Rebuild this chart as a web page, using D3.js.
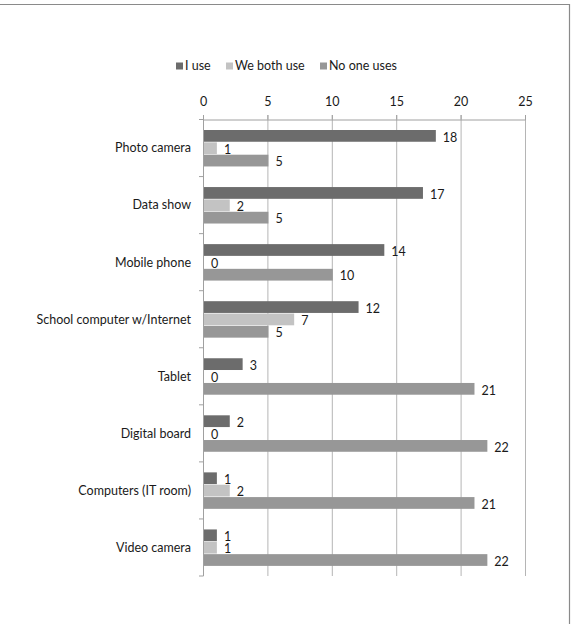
<!DOCTYPE html>
<html>
<head>
<meta charset="utf-8">
<script src="https://cdn.jsdelivr.net/npm/d3@7"></script>
<style>
  body { margin: 0; background: #fff; }
  text { font-family: Lato, "Open Sans", sans-serif; fill: #1a1a1a; }
</style>
</head>
<body>
<div id="chart"></div>
<script>
"use strict";

// Data
// ----

var categories = ["Photo camera", "Data show", "Mobile phone", "School computer w/Internet",
                  "Tablet", "Digital board", "Computers (IT room)", "Video camera"];
var iUse     = [18, 17, 14, 12, 3, 2, 1, 1];
var bothUse  = [1, 2, 0, 7, 0, 0, 2, 1];
var noOneUse = [5, 5, 10, 5, 21, 22, 21, 22];
var seriesNames = ["I use", "We both use", "No one uses"];
var ticks = [0, 5, 10, 15, 20, 25];


// Box sizing
// ----------

var W = 573, H = 624,
    pLeft = 203, pRight = 525, pTop = 119.5, pBottom = 576,
    colors = ["#6c6c6c", "#c3c3c3", "#979797"],
    series = [iUse, bothUse, noOneUse];

var svg = d3.select("#chart").append("svg")
    .attr("width", W)
    .attr("height", H);

// frame (only top and right edges visible)
svg.append("path")
    .attr("d", "M0,4.5H569.5V" + H)
    .attr("fill", "none")
    .attr("stroke", "#8a8a8a")
    .attr("stroke-width", 1.2);

var x = d3.scaleLinear().domain([0, 25]).range([pLeft, pRight]);
var y = d3.scaleBand().domain(categories).range([pTop, pBottom]);
var sub = d3.scaleBand().domain([0, 1, 2]).range([10.5, y.bandwidth() - 9.5]);


// Gridlines and axes
// ------------------

svg.append("g").selectAll("line")
    .data(ticks.slice(1))
    .join("line")
    .attr("x1", function(d){ return x(d) + 0.5 })
    .attr("x2", function(d){ return x(d) + 0.5 })
    .attr("y1", pTop - 4.5)
    .attr("y2", pBottom)
    .attr("stroke", "#b5b5b5");

var xAxis = d3.axisTop(x).tickValues(ticks).tickSize(4.5).tickPadding(9);
svg.append("g")
    .attr("transform", "translate(0," + pTop + ")")
    .call(xAxis)
    .call(function(g) {
      g.selectAll("path.domain").attr("stroke", "#a0a0a0");
      g.selectAll(".tick line").attr("stroke", "#a0a0a0");
      g.selectAll("text").attr("font-size", 12.5).attr("font-family", null)
          .attr("fill", "#1a1a1a");
    });

// left axis with ticks between categories
svg.append("line")
    .attr("x1", pLeft + 0.5).attr("x2", pLeft + 0.5)
    .attr("y1", pTop).attr("y2", pBottom)
    .attr("stroke", "#a0a0a0");

svg.append("g").selectAll("line")
    .data(d3.range(categories.length + 1))
    .join("line")
    .attr("x1", pLeft - 4).attr("x2", pLeft + 0.5)
    .attr("y1", function(i){ return pTop + i * y.bandwidth() })
    .attr("y2", function(i){ return pTop + i * y.bandwidth() })
    .attr("stroke", "#a0a0a0");

svg.append("g").selectAll("text")
    .data(categories)
    .join("text")
    .attr("x", pLeft - 12)
    .attr("y", function(d){ return y(d) + y.bandwidth() / 2 })
    .attr("dy", "0.35em")
    .attr("text-anchor", "end")
    .attr("font-size", 12.5)
    .text(function(d){ return d });


// Bars and labels
// ---------------

series.forEach(function(vals, s) {
  var g = svg.append("g");

  g.selectAll("rect")
      .data(vals)
      .join("rect")
      .attr("x", x(0) + 1)
      .attr("y", function(d, i){ return y(categories[i]) + sub(s) })
      .attr("width", function(d){ return Math.max(0, x(d) - x(0)) })
      .attr("height", sub.bandwidth() - 0.6)
      .attr("fill", colors[s]);

  g.selectAll("text")
      .data(vals)
      .join("text")
      .attr("x", function(d){ return x(d) + 8 })
      .attr("y", function(d, i){ return y(categories[i]) + sub(s) + sub.bandwidth() / 2 + 1 })
      .attr("dy", "0.35em")
      .attr("font-size", 12.5)
      .text(function(d){ return d });
});


// Legend
// ------

var legendX = [176, 226, 320];
var legend = svg.append("g").selectAll("g")
    .data(seriesNames)
    .join("g")
    .attr("transform", function(d, i){ return "translate(" + legendX[i] + ",66)" });

legend.append("rect")
    .attr("x", 0).attr("y", -3.5)
    .attr("width", 7).attr("height", 7)
    .attr("fill", function(d, i){ return colors[i] });

legend.append("text")
    .attr("x", 9)
    .attr("dy", "0.35em")
    .attr("font-size", 12.5)
    .text(function(d){ return d });
</script>
</body>
</html>
